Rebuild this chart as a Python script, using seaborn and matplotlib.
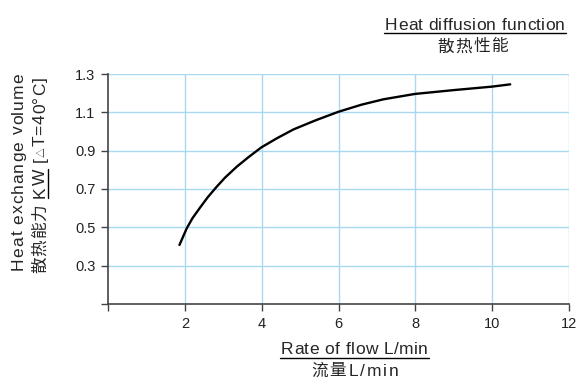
import matplotlib
matplotlib.use("Agg")
import matplotlib.pyplot as plt
import seaborn as sns
import pandas as pd
from matplotlib.lines import Line2D
from matplotlib.font_manager import FontProperties

# values
flow = [1.86, 2.05, 2.20, 2.40, 2.60, 2.83, 3.05, 3.35, 3.65, 3.99, 4.40, 4.83,
        5.40, 6.00, 6.60, 7.17, 7.99, 9.00, 9.99, 10.47]
heat = [0.408, 0.495, 0.548, 0.604, 0.658, 0.712, 0.760, 0.816, 0.865, 0.917, 0.965, 1.011,
        1.058, 1.103, 1.140, 1.168, 1.196, 1.216, 1.234, 1.246]
x_ticks = [0, 2, 4, 6, 8, 10, 12]
x_labels = ["", "2", "4", "6", "8", "10", "12"]
y_ticks = [0.1, 0.3, 0.5, 0.7, 0.9, 1.1, 1.3]
y_labels = ["", "0.3", "0.5", "0.7", "0.9", "1.1", "1.3"]

sns.set_style("white")
FAMILY = ["Liberation Sans", "Noto Sans CJK SC", "DejaVu Sans"]
plt.rcParams["font.family"] = FAMILY

GRID = "#a9d8f3"
AXIS = "#444444"
W, H = 577, 383

fig = plt.figure(figsize=(W / 100, H / 100), dpi=100)
ax = fig.add_axes([108 / W, 1 - 304 / H, 461 / W, 230 / H])

df = pd.DataFrame({"flow": flow, "heat": heat})
sns.lineplot(data=df, x="flow", y="heat", color="black", linewidth=1.7, ax=ax)

ax.set_xlim(0, 12)
ax.set_ylim(0.1, 1.3)
ax.set_xticks(x_ticks)
ax.set_xticklabels(x_labels)
ax.set_yticks(y_ticks)
ax.set_yticklabels(y_labels)
ax.set_xlabel("")
ax.set_ylabel("")

ax.grid(True, color=GRID, linewidth=1)
ax.set_axisbelow(True)
for s in ["top", "right"]:
    ax.spines[s].set_visible(False)
for s in ["left", "bottom"]:
    ax.spines[s].set_color(AXIS)
    ax.spines[s].set_linewidth(1.2)
ax.tick_params(axis="both", direction="out", length=5, width=1, color=AXIS,
               labelsize=10.5, labelcolor="#222222", pad=4, left=True, bottom=True)
ax.get_xgridlines()[0].set_visible(False)
ax.get_ygridlines()[0].set_visible(False)

fig.canvas.draw()
r = fig.canvas.get_renderer()


def char_size(c):
    if c == "△":
        return 7
    if ord(c) >= 0x2E80:
        return 12
    return 12.5


def advance(c):
    prop = FontProperties(family=FAMILY, size=char_size(c))
    w1 = r.get_text_width_height_descent("x" + c + "x", prop, ismath=False)[0]
    w0 = r.get_text_width_height_descent("xx", prop, ismath=False)[0]
    return w1 - w0


def tracked(s, pos, base, length, vertical=False):
    """Draw s letter by letter, spread to the given length (pixels).
    pos is the centre along the reading direction, base the baseline."""
    adv = [advance(c) for c in s]
    track = (length - sum(adv)) / (len(s) - 1)
    start = pos - length / 2
    spans = []
    for c, a in zip(s, adv):
        if vertical:
            fig.text(base, start, c, rotation=90, rotation_mode="anchor",
                     ha="left", va="baseline", fontsize=char_size(c), transform=None)
        else:
            fig.text(start, base, c, ha="left", va="baseline",
                     fontsize=char_size(c), transform=None)
        spans.append((start, start + a))
        start += a + track
    return spans


def hline(x0, x1, y):
    fig.add_artist(Line2D([x0, x1], [y, y], transform=None, color="black", linewidth=1))


def vline(x, y0, y1):
    fig.add_artist(Line2D([x, x], [y0, y1], transform=None, color="black", linewidth=1))


# title
sp = tracked("Heat diffusion function", 475, H - 30, 180)
hline(sp[0][0] - 1, sp[-1][1] + 1, H - 33)
tracked("散热性能", 472.5, H - 51.5, 71)

# x label
sp = tracked("Rate of flow L/min", 354.5, H - 354, 147)
hline(sp[0][0] - 1, sp[-1][1] + 1, H - 357.5)
tracked("流量L/min", 355, H - 375.5, 88)

# y label
tracked("Heat exchange volume", H - 171.5, 23, 197, vertical=True)
line2 = "散热能力 KW [△T=40°C]"
sp = tracked(line2, H - 175, 45, 196, vertical=True)
k = line2.index("KW")
vline(47.5, sp[k][0], sp[k + 1][1])

fig.savefig("out.png", dpi=100)
